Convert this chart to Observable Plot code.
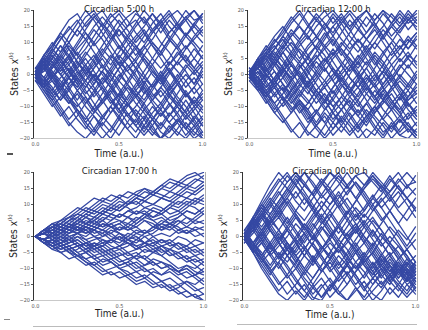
<!DOCTYPE html>
<html>
<head>
<meta charset="utf-8">
<script src="https://cdn.jsdelivr.net/npm/d3@7"></script>
<script src="https://cdn.jsdelivr.net/npm/@observablehq/plot@0.6"></script>
<style>
  html, body { margin: 0; padding: 0; background: #fff; }
  #root { position: relative; width: 428px; height: 330px; overflow: hidden; font-family: "Liberation Sans Narrow", "DejaVu Sans Condensed", sans-serif; }
  .panel { position: absolute; }
  .deco { position: absolute; }
</style>
</head>
<body>
<div id="root"></div>
<script>
// Time grid (a.u.)
const times = [0,0.05,0.1,0.15,0.2,0.25,0.3,0.35,0.4,0.45,0.5,0.55,0.6,0.65,0.7,0.75,0.8,0.85,0.9,0.95,1];
const titles = ["Circadian 5:00 h", "Circadian 12:00 h", "Circadian 17:00 h", "Circadian 00:00 h"];
const xTicks = [0, 0.5, 1];
const yTicks = [-20, -15, -10, -5, 0, 5, 10, 15, 20];

// Trajectories, Circadian 5:00 h
const states0500 = [
  [0,4,8,13,17,19,15,18,20,16,12,15,19,17,13,16,19,15,18,20,17],
  [0,-3,-7,-11,-15,-18,-20,-17,-13,-16,-19,-15,-11,-14,-18,-20,-16,-19,-15,-18,-20],
  [1,5,3,7,10,6,2,-2,1,5,9,6,2,-3,-7,-4,0,4,1,-3,2],
  [-1,-4,-2,-6,-9,-5,-8,-12,-9,-5,-1,3,0,-4,-8,-11,-7,-10,-14,-11,-8],
  [0,3,6,2,5,9,13,10,6,3,7,11,8,12,16,19,15,12,8,11,14],
  [2,-1,3,0,-4,-1,-5,-9,-13,-10,-14,-17,-20,-16,-12,-9,-13,-10,-6,-9,-12],
  [0,6,10,7,12,16,20,17,13,9,5,1,4,0,-4,-1,3,7,4,8,5],
  [-2,-6,-10,-7,-3,1,-2,2,6,10,14,11,15,18,14,10,7,3,6,2,-1],
  [0,2,-2,-5,-1,3,7,4,0,-4,-8,-12,-16,-13,-17,-20,-18,-14,-17,-13,-16],
  [1,-2,-6,-3,-7,-11,-14,-10,-6,-2,2,5,9,6,3,-1,-5,-2,-6,-10,-7],
  [0,5,9,12,8,4,0,3,7,11,15,18,20,16,19,15,11,8,12,16,19],
  [-1,2,-1,-4,-8,-12,-16,-19,-15,-18,-14,-10,-7,-11,-8,-4,-7,-3,0,-3,1],
  [0,-4,-8,-5,-1,-4,0,4,8,5,1,-3,-7,-4,-8,-5,-9,-13,-17,-20,-18],
  [2,6,4,0,3,7,3,-1,-5,-9,-6,-2,2,6,10,7,11,8,4,1,4],
  [0,3,7,11,15,12,16,19,15,11,14,10,6,9,5,2,5,9,13,10,7],
  [-1,-5,-9,-13,-10,-14,-17,-13,-16,-12,-8,-4,-7,-3,1,-2,-6,-10,-13,-16,-13],
  [0,1,5,9,5,1,-3,-7,-4,-8,-11,-7,-3,1,5,9,13,16,20,17,18],
  [1,-3,0,4,1,-3,1,5,9,13,17,14,10,13,9,5,1,-3,-7,-4,-8],
  [0,-2,-5,-1,2,-2,-6,-3,1,-3,-7,-10,-6,-9,-13,-16,-12,-15,-11,-7,-10],
  [-2,2,6,3,-1,2,6,10,14,18,20,17,13,10,14,17,13,16,12,15,12],
  [0,4,1,-3,-7,-10,-7,-11,-8,-4,0,-3,1,5,2,-2,1,-2,-6,-9,-5],
  [1,-2,2,5,9,6,10,14,11,7,3,-1,-5,-2,-6,-9,-5,-1,3,0,3],
  [0,-3,-6,-10,-14,-11,-15,-12,-8,-5,-9,-13,-16,-19,-16,-12,-15,-18,-20,-17,-14],
  [0,3,0,-3,1,5,8,12,16,13,9,5,8,4,0,-3,1,4,8,12,15],
  [-1,3,7,4,8,4,0,-4,-8,-12,-9,-13,-10,-6,-3,-7,-4,0,-4,-1,-5],
  [2,-1,-5,-8,-4,-8,-4,0,-3,1,5,9,12,15,19,16,12,9,5,2,6],
  [0,5,2,6,3,-1,-4,0,-3,-7,-11,-15,-18,-14,-10,-13,-9,-12,-8,-12,-16],
  [0,-4,-1,3,6,10,14,18,15,19,16,12,16,20,17,13,17,14,18,15,19],
  [1,4,8,5,1,-2,2,-1,3,0,4,1,-2,-6,-3,1,-3,-7,-10,-14,-18],
  [-1,-3,1,-2,-5,-9,-13,-17,-20,-17,-13,-17,-14,-18,-14,-11,-15,-12,-16,-19,-15],
  [0,-2,2,6,10,14,18,20,16,12,8,12,9,5,1,-2,-6,-3,-7,-4,0],
  [1,3,-1,-5,-9,-6,-10,-13,-17,-20,-16,-12,-15,-11,-14,-17,-13,-9,-12,-8,-11],
  [-1,2,5,9,6,2,5,1,-3,0,-4,-8,-4,-1,3,7,11,15,12,16,13],
  [0,-4,-1,2,-1,-5,-2,2,5,1,-2,2,5,9,13,17,20,16,12,9,5],
  [2,4,0,-4,-1,-5,-9,-6,-2,2,6,3,-1,-5,-9,-13,-10,-6,-2,-6,-3],
  [0,3,7,11,14,17,13,9,12,16,19,15,17,13,9,6,10,14,17,20,16],
  [-1,-5,-8,-12,-16,-13,-9,-5,-1,-4,-7,-3,-6,-10,-14,-18,-20,-17,-13,-10,-14],
  [0,2,5,1,4,8,11,7,3,-1,-5,-9,-13,-17,-14,-10,-6,-9,-5,-9,-6],
  [1,-1,-4,-8,-5,-1,3,6,2,6,3,7,11,14,10,7,3,6,9,5,9],
  [0,4,8,5,1,-3,-7,-11,-14,-10,-6,-9,-13,-9,-5,-1,2,-2,2,5,2],
  [-2,-4,-7,-4,0,4,1,-3,1,-2,2,6,2,-1,-4,0,-4,-8,-12,-15,-19],
  [0,3,-1,2,6,2,-2,-5,-9,-6,-2,-5,-9,-12,-16,-20,-17,-14,-17,-14,-10],
  [1,6,9,13,10,14,11,15,18,15,11,7,4,8,11,15,18,20,17,13,10],
  [0,-3,0,-4,-8,-11,-15,-18,-14,-10,-13,-9,-5,-8,-4,0,4,1,-2,1,-3],
  [-1,1,4,0,-3,0,3,-1,-4,-8,-12,-9,-12,-16,-19,-15,-18,-15,-19,-16,-20]
];

// Trajectories, Circadian 12:00 h
const states1200 = [
  [0,3,7,11,8,12,16,20,17,20,16,19,15,18,20,17,20,18,15,19,16],
  [0,-4,-7,-4,-8,-12,-9,-13,-17,-20,-17,-14,-18,-15,-11,-14,-18,-16,-19,-17,-20],
  [1,4,1,5,9,13,10,6,2,5,1,-3,-6,-2,2,6,3,7,11,8,12],
  [-1,-3,0,-4,-1,3,-1,-5,-9,-6,-10,-7,-3,0,-4,-8,-5,-9,-12,-8,-5],
  [0,5,8,5,9,6,10,13,17,14,18,14,10,7,11,14,10,6,9,5,2],
  [1,-2,-6,-10,-14,-18,-15,-19,-16,-12,-15,-11,-7,-10,-6,-3,-7,-11,-15,-12,-16],
  [0,2,6,3,-1,-5,-2,2,5,9,12,16,19,15,11,8,12,15,18,14,17],
  [-1,2,-2,-6,-3,-7,-11,-15,-12,-8,-4,-1,-5,-9,-13,-10,-14,-17,-14,-18,-15],
  [0,4,8,12,15,11,7,3,6,2,-2,1,5,2,6,10,7,3,-1,-4,0],
  [2,-1,-4,-1,3,7,4,8,11,15,19,16,12,9,5,1,-3,0,-4,-7,-3],
  [0,-3,1,5,2,-2,-6,-9,-5,-8,-12,-16,-19,-16,-20,-17,-13,-9,-6,-10,-7],
  [0,3,6,10,13,17,20,16,12,8,11,7,3,-1,2,-2,1,5,8,12,9],
  [-2,-5,-2,1,-3,-7,-4,0,4,1,5,8,4,0,-3,-7,-11,-14,-18,-15,-19],
  [1,5,2,-2,2,-1,-5,-8,-12,-15,-11,-7,-10,-6,-2,2,6,10,14,17,19],
  [0,-2,-6,-3,1,4,8,5,9,13,9,13,17,14,18,15,11,15,12,8,11],
  [-1,2,5,1,-3,-6,-10,-14,-11,-15,-19,-16,-12,-16,-13,-17,-20,-16,-13,-9,-12],
  [0,4,0,-4,-8,-5,-1,3,0,-4,-1,3,7,11,8,4,0,-4,-1,3,-1],
  [1,-2,2,6,10,14,11,15,19,16,13,17,20,17,13,16,12,8,4,7,3],
  [0,-5,-9,-6,-10,-7,-3,-6,-2,2,-2,-6,-9,-13,-16,-12,-8,-11,-7,-11,-14],
  [0,2,-1,3,7,3,0,-4,-7,-11,-8,-4,0,4,8,12,15,19,16,20,17],
  [2,-1,3,7,4,0,4,1,-3,-7,-10,-14,-10,-13,-9,-5,-8,-4,-8,-5,-9],
  [-1,-4,-8,-12,-9,-5,-9,-12,-16,-19,-15,-18,-14,-11,-15,-11,-8,-4,0,-3,1],
  [0,3,7,4,8,12,15,12,8,4,8,4,1,4,0,-3,1,-2,2,6,4],
  [0,-3,0,4,1,-3,-7,-3,1,5,1,-2,2,6,3,7,4,0,-4,-8,-6],
  [1,4,0,-3,-7,-11,-8,-12,-16,-13,-17,-13,-16,-20,-17,-19,-15,-18,-14,-17,-20],
  [-1,-4,-1,3,7,10,7,3,7,11,15,18,14,18,15,19,16,12,15,18,14],
  [0,5,9,6,2,-2,2,6,9,6,2,-2,-5,-1,-5,-1,3,-1,-5,-9,-13],
  [1,-3,-6,-9,-6,-2,1,-3,-7,-3,0,3,-1,-4,-8,-12,-9,-6,-10,-14,-11],
  [0,2,5,8,12,9,5,9,12,9,6,10,7,3,7,10,14,11,8,11,8],
  [-1,-1,-5,-2,2,-1,3,-1,-5,-9,-5,-9,-5,-8,-4,-7,-3,1,5,2,6],
  [0,4,7,10,14,18,15,11,15,18,20,17,14,10,13,17,20,16,13,17,20],
  [1,-3,-7,-11,-7,-10,-14,-18,-20,-16,-12,-9,-13,-17,-13,-10,-6,-10,-13,-16,-18],
  [0,2,6,9,5,1,-3,1,5,8,4,0,-4,-7,-3,0,-4,-8,-11,-7,-4],
  [-1,-4,-7,-3,1,5,9,12,8,12,15,11,8,11,7,3,7,10,6,10,13],
  [0,5,2,-2,-5,-9,-6,-2,-6,-10,-14,-11,-15,-18,-14,-10,-14,-11,-7,-3,-6],
  [2,0,4,8,12,16,19,15,18,14,10,6,10,14,11,15,19,16,20,17,15],
  [0,-2,-5,-9,-13,-17,-20,-16,-12,-8,-12,-15,-11,-8,-12,-16,-19,-15,-19,-20,-17],
  [-1,3,0,-3,1,4,0,-3,0,4,7,3,-1,-4,-1,-4,-8,-5,-2,-5,-1],
  [0,-3,-6,-2,-5,-2,2,5,1,-2,-6,-2,2,5,9,5,2,-2,2,5,9],
  [1,3,6,3,7,3,-1,-4,-1,3,6,9,13,17,20,16,12,16,19,16,18],
  [0,-4,-8,-12,-15,-12,-8,-11,-7,-4,-8,-11,-8,-12,-9,-13,-16,-20,-17,-13,-10],
  [-2,1,-3,-7,-4,-8,-12,-9,-5,-2,2,-1,-5,-2,-6,-9,-5,-2,-6,-9,-13],
  [0,2,4,8,11,7,11,15,12,16,12,8,5,1,-3,-7,-4,-8,-12,-16,-19],
  [1,-1,-4,-1,2,6,3,-1,-5,-8,-4,0,3,0,4,0,-4,-1,3,0,-3],
  [0,4,1,4,0,-4,-8,-11,-15,-11,-7,-3,-7,-4,0,-4,-1,3,6,10,13]
];

// Trajectories, Circadian 17:00 h
const states1700 = [
  [0,2,4,5,7,9,8,10,12,11,13,12,14,15,13,15,17,16,18,19,20],
  [0,-1,-3,-2,-4,-6,-5,-7,-9,-8,-10,-12,-11,-13,-15,-14,-16,-18,-17,-19,-20],
  [0,1,0,2,1,3,5,4,6,5,7,6,4,6,8,7,9,11,10,12,11],
  [0,-2,-1,-3,-2,0,-1,-3,-5,-4,-6,-5,-7,-6,-8,-10,-9,-11,-10,-12,-14],
  [0,2,1,3,5,4,6,5,3,4,2,3,5,7,6,8,10,12,14,13,15],
  [0,-1,1,0,-2,-1,-3,-5,-4,-6,-8,-7,-9,-11,-10,-12,-11,-13,-15,-17,-16],
  [0,1,3,2,4,3,1,2,0,1,3,2,4,6,5,3,4,2,3,5,4],
  [0,-2,-4,-3,-5,-4,-2,-3,-1,-2,0,-1,1,0,-2,-1,-3,-2,-4,-3,-5],
  [0,2,3,5,4,6,8,7,9,8,10,9,7,8,6,7,5,6,8,7,9],
  [0,-1,-2,-1,-3,-5,-7,-6,-8,-7,-9,-8,-6,-7,-5,-6,-4,-5,-7,-6,-8],
  [0,1,2,4,3,5,7,9,11,10,12,14,13,15,14,16,15,17,16,18,17],
  [0,-1,0,-2,-4,-3,-5,-4,-6,-5,-7,-9,-8,-10,-12,-14,-13,-15,-14,-16,-18],
  [0,2,1,0,2,1,3,2,4,3,1,-1,0,-2,-1,-3,-2,-4,-3,-5,-4],
  [0,-1,-3,-2,-1,1,0,2,1,3,2,4,3,5,4,2,3,1,2,0,1],
  [0,1,3,5,6,8,10,12,11,13,12,10,11,9,10,12,11,13,15,17,19],
  [0,-2,-3,-5,-7,-6,-8,-10,-12,-11,-13,-12,-14,-13,-11,-12,-10,-11,-9,-10,-8],
  [0,1,-1,0,-1,-3,-2,-4,-3,-1,-2,0,2,1,3,5,4,6,8,7,9],
  [0,2,4,3,5,7,6,4,5,3,4,6,5,7,9,8,10,9,11,10,12],
  [0,-1,-2,-4,-3,-5,-4,-2,-3,-1,0,-2,-3,-5,-4,-6,-8,-10,-9,-11,-12],
  [0,1,2,1,3,2,4,6,8,7,6,8,9,11,10,12,14,13,12,14,16],
  [0,-2,-1,1,0,-2,-4,-3,-5,-7,-6,-5,-7,-9,-8,-10,-9,-11,-13,-12,-10],
  [0,2,3,2,4,2,3,1,2,4,5,3,1,2,0,-2,-1,-3,-5,-4,-6],
  [0,-1,1,2,0,1,-1,0,-2,-1,1,0,-1,1,3,2,4,3,1,2,0],
  [0,1,2,3,5,6,4,5,7,9,8,10,12,11,10,9,7,8,6,4,5],
  [0,-1,-2,-3,-5,-6,-8,-9,-7,-8,-10,-9,-11,-10,-12,-14,-16,-15,-17,-19,-18],
  [0,2,0,1,-1,0,-2,-1,0,2,1,-1,-3,-2,-4,-3,-5,-7,-6,-8,-7],
  [0,1,3,4,3,5,4,6,5,7,9,11,10,12,14,13,12,14,16,15,17],
  [0,-1,-3,-4,-3,-2,-4,-6,-5,-4,-3,-5,-4,-2,-3,-1,-2,0,-1,-3,-2],
  [0,2,1,3,2,1,2,0,-1,-3,-4,-6,-5,-7,-9,-8,-10,-12,-11,-13,-15],
  [0,-1,0,-1,1,3,2,4,3,5,7,6,8,7,5,6,4,5,3,2,3],
  [0,1,2,4,6,5,7,6,8,10,9,11,13,12,14,16,18,17,19,20,18],
  [0,-2,-3,-2,-4,-3,-5,-7,-6,-8,-10,-11,-13,-12,-14,-16,-15,-17,-19,-18,-20],
  [0,1,3,2,3,5,4,3,5,7,6,8,7,9,8,7,9,8,10,9,7],
  [0,-1,0,2,1,2,4,3,2,0,-1,1,0,-2,-3,-5,-4,-6,-8,-7,-9],
  [0,2,1,-1,-2,-1,-3,-2,-4,-6,-5,-7,-6,-4,-5,-3,-4,-2,-3,-1,-2],
  [0,-1,-3,-5,-4,-6,-5,-3,-2,-4,-3,-1,-2,0,1,3,2,4,6,5,7],
  [0,1,2,1,3,4,6,8,7,9,11,10,12,11,13,12,11,10,12,11,13],
  [0,-2,-1,-3,-5,-7,-9,-8,-10,-12,-11,-13,-15,-14,-16,-15,-17,-16,-14,-15,-13],
  [0,1,0,1,3,2,1,3,2,1,-1,-2,-4,-3,-2,-4,-6,-5,-7,-9,-11],
  [0,-1,1,3,2,4,3,5,7,6,5,4,6,5,3,4,6,7,9,11,10],
  [0,2,4,3,2,3,2,0,1,-1,-3,-2,-4,-3,-5,-4,-6,-5,-4,-6,-5],
  [0,-1,-2,0,-1,-3,-2,-4,-3,-5,-4,-3,-1,-2,0,1,0,2,1,3,2],
  [0,1,3,4,6,7,9,8,10,9,8,10,12,14,13,15,14,16,15,14,16],
  [0,-2,-4,-5,-4,-6,-7,-9,-11,-10,-9,-8,-10,-9,-7,-8,-9,-11,-10,-12,-11],
  [0,1,-1,-2,0,1,3,2,4,3,4,2,3,1,2,4,3,5,4,6,8]
];

// Trajectories, Circadian 00:00 h
const states0000 = [
  [0,6,11,16,20,17,20,16,13,17,20,18,15,19,16,20,17,14,18,15,19],
  [0,-5,-10,-14,-18,-20,-17,-20,-16,-19,-15,-18,-20,-17,-14,-18,-20,-16,-19,-15,-13],
  [1,5,9,6,10,14,18,14,10,6,10,13,9,5,8,12,16,13,9,12,8],
  [-1,-4,-8,-5,-9,-13,-10,-6,-2,-6,-10,-14,-11,-15,-12,-8,-12,-15,-11,-14,-10],
  [0,3,7,4,0,-4,-1,3,7,11,8,4,0,3,-1,-5,-9,-6,-10,-13,-9],
  [2,-2,1,-3,-7,-4,0,4,1,-3,-7,-4,-8,-12,-16,-13,-10,-14,-11,-8,-12],
  [0,4,8,12,9,13,17,20,16,12,15,11,7,11,15,19,16,12,8,5,9],
  [-1,-5,-2,2,-2,-6,-10,-14,-18,-15,-19,-16,-12,-9,-13,-9,-6,-10,-14,-17,-13],
  [0,2,6,2,-2,2,6,3,-1,3,0,4,8,4,0,-3,1,-3,-7,-4,-8],
  [1,-3,-7,-11,-15,-12,-8,-4,-8,-4,0,3,-1,2,-2,2,-2,-6,-3,-7,-11],
  [0,5,10,14,18,15,11,8,12,16,20,17,13,17,14,10,13,17,20,16,17],
  [-1,2,-2,-6,-3,0,4,1,-3,-7,-11,-8,-12,-16,-20,-17,-14,-18,-15,-11,-14],
  [0,-3,1,5,9,5,1,-3,-7,-3,-6,-10,-7,-3,1,5,2,-2,2,-1,3],
  [2,6,3,7,11,15,12,16,13,9,5,1,5,9,6,10,6,2,-2,-6,-10],
  [0,-4,-8,-12,-8,-12,-16,-19,-15,-11,-7,-11,-15,-11,-7,-3,-7,-11,-8,-12,-16],
  [-2,1,5,9,13,17,20,17,13,17,14,10,14,17,13,9,5,8,4,8,12],
  [0,3,-1,-5,-1,3,-1,-4,0,4,8,12,16,12,8,12,9,5,1,-3,1],
  [1,-2,-6,-2,-6,-10,-14,-17,-20,-16,-13,-17,-20,-16,-19,-15,-11,-7,-11,-15,-18],
  [0,4,0,4,8,4,8,12,9,5,1,-3,-6,-2,-6,-10,-6,-9,-13,-10,-14],
  [-1,-4,-1,-5,-2,-6,-3,1,5,9,13,9,5,1,4,0,4,8,12,16,13],
  [0,5,2,6,2,-2,-6,-10,-6,-10,-14,-18,-15,-11,-8,-12,-9,-13,-9,-12,-8],
  [1,3,7,11,15,19,16,12,8,4,7,3,-1,-4,-8,-5,-9,-12,-8,-11,-15],
  [0,-3,-7,-3,1,-3,-7,-11,-15,-19,-16,-12,-8,-4,-8,-5,-1,3,0,-4,-1],
  [-1,3,7,3,-1,2,-2,-6,-2,2,6,10,6,2,-2,-6,-10,-14,-10,-13,-17],
  [0,-4,0,4,7,11,7,3,0,-4,0,3,7,11,15,18,15,19,15,12,8],
  [2,-2,-6,-10,-6,-2,-6,-3,-7,-11,-7,-3,1,-3,-7,-11,-15,-12,-16,-19,-16],
  [0,6,2,-2,-6,-9,-13,-17,-13,-9,-5,-9,-5,-1,3,-1,-5,-9,-13,-9,-6],
  [-1,2,6,10,6,10,14,10,14,18,15,19,16,12,16,19,15,11,14,10,6],
  [0,-2,-6,-2,2,6,2,-2,2,6,2,-2,-6,-10,-7,-11,-7,-11,-7,-4,-8],
  [1,4,0,-4,0,-4,-8,-4,0,-3,-7,-3,-7,-10,-6,-2,-6,-2,-5,-9,-12],
  [0,5,9,13,17,20,16,13,9,13,17,20,16,19,20,17,14,18,15,12,15],
  [-1,-5,-9,-13,-17,-14,-18,-15,-19,-20,-16,-13,-9,-12,-16,-20,-17,-13,-10,-14,-11],
  [1,4,8,4,8,12,8,5,9,5,1,-3,1,4,0,-4,-8,-12,-9,-13,-10],
  [0,-3,1,-3,-7,-3,-6,-10,-13,-9,-5,-1,3,7,3,6,2,-2,-6,-10,-13],
  [-2,2,6,10,14,10,6,2,6,9,13,16,20,16,12,8,12,8,4,0,-4],
  [0,-4,-7,-10,-14,-18,-15,-11,-7,-11,-8,-12,-9,-13,-17,-13,-16,-12,-15,-18,-14],
  [1,-2,2,5,2,-2,-5,-1,3,7,3,-1,-4,-8,-5,-9,-13,-9,-12,-8,-11],
  [0,6,10,7,11,15,19,16,20,17,13,9,12,8,4,8,11,14,17,20,17],
  [0,-2,-5,-9,-5,-8,-4,0,4,0,-4,-8,-12,-8,-11,-15,-12,-8,-11,-7,-9],
  [-1,3,-1,3,6,2,-2,-6,-9,-5,-2,-5,-1,3,7,4,0,-3,-7,-11,-8],
  [0,-5,-2,-6,-10,-6,-2,1,-3,-6,-10,-6,-9,-5,-9,-13,-10,-14,-17,-13,-16],
  [2,5,1,5,9,12,16,20,17,13,10,14,10,6,9,13,9,12,16,12,9],
  [0,3,6,2,-2,-6,-9,-13,-16,-13,-17,-13,-9,-5,-9,-12,-8,-5,-9,-12,-9],
  [-1,-3,-7,-11,-8,-4,-8,-12,-8,-4,-1,3,-1,-5,-2,2,-2,-6,-10,-14,-12],
  [0,4,7,11,7,3,7,3,-1,3,-1,-5,-2,2,5,1,-3,0,-3,-6,-10]
];

const allStates = [states0500, states1200, states1700, states0000];

const FONT = '"Liberation Sans Narrow", "DejaVu Sans Condensed", sans-serif';
const LINE = "#3548a3";

const layouts = [
  {left: 0,   top: 0,   mL: 33, mR: 10, mT: 10, mB: 27, xLab: 18, yLab: -18},
  {left: 214, top: 0,   mL: 33, mR: 10, mT: 10, mB: 27, xLab: 18, yLab: -18},
  {left: 0,   top: 165, mL: 33, mR: 9,  mT: 7,  mB: 30, xLab: 16.5, yLab: -19},
  {left: 214, top: 165, mL: 28, mR: 11, mT: 7,  mB: 30, xLab: 17, yLab: -18}
];

const root = document.getElementById("root");

allStates.forEach((series, i) => {
  const L = layouts[i];
  const rows = series.flatMap((vals, k) => vals.map((v, j) => ({id: k, t: times[j], v})));
  const chart = Plot.plot({
    width: 214,
    height: 165,
    marginLeft: L.mL, marginRight: L.mR, marginTop: L.mT, marginBottom: L.mB,
    style: {fontFamily: FONT, background: "transparent", overflow: "visible"},
    x: {domain: [0, 1], inset: 2},
    y: {domain: [-20, 20]},
    marks: [
      Plot.line(rows, {x: "t", y: "v", z: "id", stroke: LINE, strokeWidth: 1.3, clip: true}),
      Plot.frame({anchor: "left", stroke: "#333", strokeWidth: 1}),
      Plot.frame({anchor: "right", stroke: "#999", strokeWidth: 0.8}),
      Plot.frame({anchor: "bottom", stroke: "#bbb", strokeWidth: 0.8}),
      Plot.axisY({ticks: yTicks, tickSize: 2, tickPadding: 1.5, fontSize: 5.5, stroke: "#555", fill: "#555", label: null}),
      Plot.axisX({ticks: xTicks, tickFormat: d3.format(".1f"), tickSize: 0, tickPadding: 3.5, fontSize: 5.5, fill: "#555", label: null}),
      Plot.text([titles[i]], {frameAnchor: "top", dy: -5, fontSize: 9.5, fill: "#222"}),
      Plot.text(["Time (a.u.)"], {frameAnchor: "bottom", dy: L.xLab, fontSize: 10, fill: "#222"})
    ]
  });
  // y-axis label with superscript
  const svg = d3.select(chart);
  const cy = L.mT + (165 - L.mT - L.mB) / 2;
  const t = svg.append("text")
    .attr("transform", `translate(${L.mL + L.yLab},${cy}) rotate(-90)`)
    .attr("text-anchor", "middle")
    .attr("dominant-baseline", "middle")
    .attr("font-size", 10)
    .attr("fill", "#222")
    .attr("font-family", FONT);
  t.append("tspan").text("States x");
  t.append("tspan").attr("font-size", 5.5).attr("dy", -4).text("(k)");
  chart.classList.add("panel");
  chart.style.left = L.left + "px";
  chart.style.top = L.top + "px";
  root.appendChild(chart);
});

// small decorations (separator lines)
const decos = [
  {left: 7, top: 153, width: 6, height: 1.5, bg: "#555"},
  {left: 4, top: 319, width: 6, height: 1, bg: "#888"},
  {left: 33, top: 326, width: 172, height: 1, bg: "#bbb"},
  {left: 237, top: 324, width: 180, height: 1, bg: "#bbb"}
];
decos.forEach(d => {
  const el = document.createElement("div");
  el.className = "deco";
  Object.assign(el.style, {left: d.left + "px", top: d.top + "px", width: d.width + "px", height: d.height + "px", background: d.bg});
  root.appendChild(el);
});
</script>
</body>
</html>
